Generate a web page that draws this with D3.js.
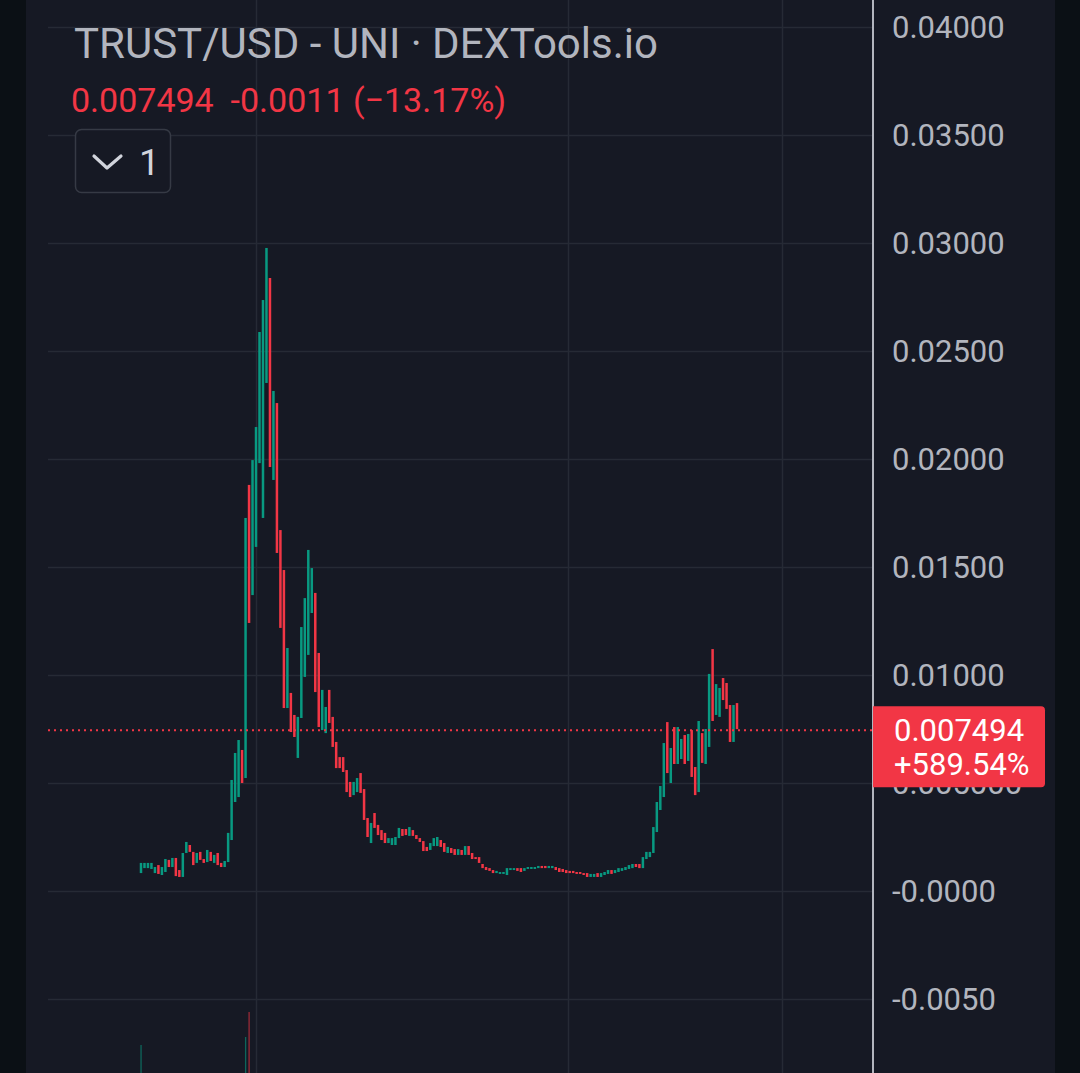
<!DOCTYPE html>
<html><head><meta charset="utf-8">
<script src="https://cdn.jsdelivr.net/npm/d3@7/dist/d3.min.js"></script>
<style>
html,body{margin:0;padding:0;background:#0b1015;}
svg{display:block;font-family:Roboto,"Noto Sans",sans-serif;}
</style></head><body>
<svg id="c" width="1080" height="1073"></svg>
<script>
// ---- data ----
const title = "TRUST/USD - UNI · DEXTools.io";
const lastPrice = 0.007494;
const changeText = "-0.0011 (\u221213.17%)";
const changePct = "+589.54%";
const intervalLabel = "1";

const opens = [0.00083,0.00106,0.00106,0.00102,0.00083,0.00120,0.00074,0.00088,0.00144,0.00111,
0.00153,0.00097,0.00065,0.00176,0.00213,0.00181,0.00130,0.00181,0.00148,0.00134,
0.00181,0.00130,0.00176,0.00130,0.00111,0.00134,0.00236,0.00412,0.00435,0.00653,
0.00523,0.01880,0.01370,0.01593,0.01981,0.01727,0.02352,0.02838,0.01903,0.02259,
0.01671,0.01486,0.00847,0.00917,0.00815,0.00616,0.00801,0.00991,0.01093,0.01287,
0.01380,0.01102,0.00745,0.00731,0.00931,0.00806,0.00690,0.00620,0.00620,0.00560,
0.00505,0.00444,0.00458,0.00546,0.00472,0.00338,0.00222,0.00361,0.00306,0.00282,
0.00269,0.00222,0.00213,0.00213,0.00245,0.00287,0.00287,0.00255,0.00282,0.00259,
0.00245,0.00231,0.00204,0.00190,0.00208,0.00208,0.00236,0.00222,0.00176,0.00199,
0.00194,0.00167,0.00190,0.00167,0.00208,0.00176,0.00157,0.00157,0.00125,0.00111,
0.00106,0.00097,0.00083,0.00079,0.00079,0.00074,0.00097,0.00097,0.00106,0.00106,
0.00093,0.00102,0.00102,0.00102,0.00106,0.00116,0.00116,0.00106,0.00106,0.00111,
0.00106,0.00102,0.00097,0.00093,0.00093,0.00088,0.00088,0.00083,0.00083,0.00065,
0.00065,0.00083,0.00065,0.00074,0.00079,0.00097,0.00083,0.00088,0.00093,0.00097,
0.00102,0.00106,0.00125,0.00125,0.00106,0.00148,0.00157,0.00176,0.00273,0.00375,
0.00435,0.00782,0.00500,0.00759,0.00588,0.00611,0.00722,0.00602,0.00745,0.00574,
0.00458,0.00731,0.00588,0.00667,0.01120,0.00815,0.00806,0.00986,0.00963,0.00861,
0.00690,0.00870];

const closes = [0.00130,0.00130,0.00130,0.00130,0.00111,0.00079,0.00111,0.00148,0.00111,0.00153,
0.00069,0.00065,0.00176,0.00227,0.00181,0.00120,0.00176,0.00144,0.00130,0.00190,
0.00139,0.00167,0.00120,0.00111,0.00139,0.00269,0.00514,0.00639,0.00699,0.00500,
0.01727,0.01241,0.01995,0.02148,0.02588,0.02736,0.02977,0.01963,0.02315,0.01565,
0.01218,0.00847,0.01125,0.00736,0.00713,0.00806,0.01222,0.01356,0.01579,0.01495,
0.00921,0.00759,0.00931,0.00852,0.00778,0.00667,0.00569,0.00569,0.00551,0.00458,
0.00435,0.00505,0.00523,0.00454,0.00329,0.00250,0.00315,0.00292,0.00259,0.00236,
0.00222,0.00245,0.00245,0.00250,0.00292,0.00255,0.00259,0.00296,0.00255,0.00241,
0.00227,0.00185,0.00185,0.00222,0.00245,0.00250,0.00204,0.00181,0.00204,0.00176,
0.00167,0.00194,0.00167,0.00208,0.00167,0.00148,0.00148,0.00130,0.00106,0.00097,
0.00093,0.00083,0.00093,0.00088,0.00088,0.00106,0.00106,0.00106,0.00093,0.00088,
0.00106,0.00111,0.00111,0.00111,0.00116,0.00106,0.00106,0.00116,0.00116,0.00097,
0.00088,0.00088,0.00083,0.00083,0.00083,0.00079,0.00079,0.00074,0.00065,0.00079,
0.00079,0.00065,0.00083,0.00088,0.00097,0.00079,0.00097,0.00106,0.00106,0.00111,
0.00120,0.00125,0.00111,0.00106,0.00157,0.00181,0.00181,0.00296,0.00412,0.00486,
0.00685,0.00546,0.00662,0.00588,0.00759,0.00704,0.00588,0.00727,0.00528,0.00444,
0.00787,0.00593,0.00750,0.01005,0.00787,0.00958,0.00940,0.00884,0.00843,0.00690,
0.00861,0.007494];

// visible volume bars (candle index, relative volume)
const volIdx = [0, 30, 31];
const volVals = [28, 36, 61];

const yTickVals = [0.04, 0.035, 0.03, 0.025, 0.02, 0.015, 0.01, 0.005, 0, -0.005];
const yTickLabels = ["0.04000","0.03500","0.03000","0.02500","0.02000","0.01500","0.01000","0.005000","-0.0000","-0.0050"];
// time gridlines, in candle-index units
const timeGridIdx = [33, 122.5, 184];

// ---- drawing ----
const W = 1080, H = 1073;
const UP = "#089981", DOWN = "#f23645";
const svg = d3.select("#c");

const panelL = 26, panelR = 1055, axisX = 873, gridL = 48;

svg.append("rect").attr("x",0).attr("y",0).attr("width",W).attr("height",H).attr("fill","#0b1015");
svg.append("rect").attr("x",panelL).attr("y",0).attr("width",panelR-panelL).attr("height",H).attr("fill","#161924");

const x = d3.scaleLinear().domain([0, opens.length-1]).range([141, 737]);
const y = d3.scaleLinear().domain([-0.005, 0.04]).range([999, 27]);
const v = d3.scaleLinear().domain([0, 100]).range([H, H-100]);

// grid
svg.append("g").selectAll("line").data(yTickVals).join("line")
  .attr("x1", gridL).attr("x2", axisX)
  .attr("y1", d=>Math.round(y(d))+0.5).attr("y2", d=>Math.round(y(d))+0.5)
  .attr("stroke","#262a35").attr("stroke-width",1.5);
svg.append("g").selectAll("line").data(timeGridIdx).join("line")
  .attr("x1", d=>Math.round(x(d))+0.5).attr("x2", d=>Math.round(x(d))+0.5)
  .attr("y1", 0).attr("y2", H)
  .attr("stroke","#262a35").attr("stroke-width",1.5);

// volume
svg.append("g").selectAll("rect").data(volIdx).join("rect")
  .attr("x", d=>x(d)-0.6).attr("width",1.3)
  .attr("y", (d,i)=>v(volVals[i])).attr("height",(d,i)=>H - v(volVals[i]))
  .attr("fill", d=>closes[d]>=opens[d]?UP:DOWN).attr("opacity",0.6);

// candles
const idx = d3.range(opens.length);
svg.append("g").selectAll("rect").data(idx).join("rect")
  .attr("x", i=>x(i)-1.25).attr("width", 2.5)
  .attr("y", i=>y(Math.max(opens[i],closes[i])))
  .attr("height", i=>Math.max(1.5, Math.abs(y(opens[i])-y(closes[i]))))
  .attr("fill", i=>closes[i]>=opens[i]?UP:DOWN);

// last price dotted line
svg.append("line").attr("x1",gridL).attr("x2",axisX)
  .attr("y1", y(lastPrice)+1).attr("y2", y(lastPrice)+1)
  .attr("stroke",DOWN).attr("stroke-width",2).attr("stroke-dasharray","2,4");

// price axis
svg.append("line").attr("x1",axisX).attr("x2",axisX).attr("y1",0).attr("y2",H)
  .attr("stroke","#b2b5be").attr("stroke-width",2);
svg.append("g").selectAll("text").data(yTickVals).join("text")
  .attr("x", 892).attr("y", d=>y(d)+11)
  .attr("fill","#b2b5be").attr("font-size",31)
  .text((d,i)=>yTickLabels[i]);

// last price label
const ly = y(lastPrice);
svg.append("path")
  .attr("d", `M${axisX},${ly-23} H1041 Q1045,${ly-23} 1045,${ly-19} V${ly+54} Q1045,${ly+58} 1041,${ly+58} H${axisX} Z`)
  .attr("fill",DOWN);
svg.append("text").attr("x",894).attr("y",ly+12).attr("fill","#ffffff").attr("font-size",31).text(d3.format(".6f")(lastPrice));
svg.append("text").attr("x",894).attr("y",ly+46).attr("fill","#ffffff").attr("font-size",31).text(changePct);

// header
svg.append("text").attr("x",74).attr("y",58).attr("fill","#b2b5be").attr("font-size",42).text(title);
svg.append("text").attr("x",71).attr("y",112).attr("fill",DOWN).attr("font-size",34)
  .text(d3.format(".6f")(lastPrice) + "\u00a0 " + changeText);

svg.append("rect").attr("x",75.5).attr("y",129.5).attr("width",95).attr("height",63).attr("rx",6)
  .attr("fill","#161924").attr("stroke","#363a45").attr("stroke-width",1.5);
svg.append("path").attr("d","M94,156 L107,168 L121,156").attr("fill","none")
  .attr("stroke","#d1d4dc").attr("stroke-width",3.2).attr("stroke-linecap","round").attr("stroke-linejoin","round");
svg.append("text").attr("x",139).attr("y",175).attr("fill","#d1d4dc").attr("font-size",37).text(intervalLabel);
</script>
</body></html>
